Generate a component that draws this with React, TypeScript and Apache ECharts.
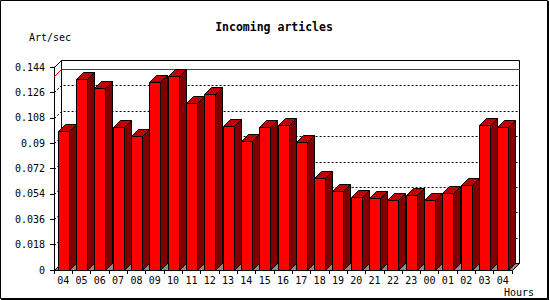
import React, { useEffect, useRef } from "react";
import * as echarts from "echarts";

const hours = ["04","05","06","07","08","09","10","11","12","13","14","15","16","17","18","19","20","21","22","23","00","01","02","03","04"];
const artPerSec = [0.0986,0.1353,0.1289,0.1012,0.0948,0.1331,0.1376,0.1185,0.1249,0.1021,0.0915,0.1014,0.1029,0.0906,0.0650,0.0558,0.0516,0.0508,0.0497,0.0530,0.0494,0.0544,0.0601,0.1026,0.1012];
const yTicks = [0,0.018,0.036,0.054,0.072,0.09,0.108,0.126,0.144];
const yTickLabels = ["0","0.018","0.036","0.054","0.072","0.09","0.108","0.126","0.144"];

const FONT = "DejaVu Sans Mono";
const DEPTH = 7;
const BAR_W = 11;

export default function App() {
  const ref = useRef<HTMLDivElement>(null);
  useEffect(() => {
    if (!ref.current) return;
    const chart = echarts.init(ref.current, null, { renderer: "svg" });
    const maxVal = Math.max(...artPerSec);
    const yMax = yTicks[yTicks.length - 1];
    const step = yTicks[1] - yTicks[0];

    const wallsRender = (params: any, api: any) => {
      const cs = params.coordSys;
      const x0 = cs.x, x1 = cs.x + cs.width;
      const yb = api.coord([0, 0])[1];
      const yt = api.coord([0, yMax])[1];
      const d = DEPTH;
      const r = (v: number) => Math.round(v) + 0.5;
      const children: any[] = [];
      // back wall
      children.push({ type: "polygon", shape: { points: [[r(x0 + d), r(yt - d)], [r(x1 + d), r(yt - d)], [r(x1 + d), r(yb - d)], [r(x0 + d), r(yb - d)]] }, style: { fill: "#fff", stroke: "#000", lineWidth: 1 } });
      // floor
      children.push({ type: "polygon", shape: { points: [[r(x0), r(yb)], [r(x0 + d), r(yb - d)], [r(x1 + d), r(yb - d)], [r(x1), r(yb)]] }, style: { fill: "#8c8c8c", stroke: "#000", lineWidth: 1 } });
      // left wall top edge
      children.push({ type: "line", shape: { x1: r(x0), y1: r(yt), x2: r(x0 + d), y2: r(yt - d) }, style: { stroke: "#000", lineWidth: 1 } });
      // grid lines
      yTicks.forEach((v) => {
        if (v === 0 || v === yMax) return;
        const y = api.coord([0, v])[1];
        children.push({ type: "polyline", shape: { points: [[r(x0), r(y)], [r(x0 + d), r(y - d)], [r(x1 + d), r(y - d)]] }, style: { stroke: "#000", lineWidth: 1, lineDash: [2, 2], fill: null } });
      });
      // max line
      const ym = api.coord([0, maxVal])[1];
      children.push({ type: "polyline", shape: { points: [[r(x0), r(ym)], [r(x0 + d), r(ym - d)], [r(x1 + d), r(ym - d)]] }, style: { stroke: "#e00000", lineWidth: 1, fill: null } });
      return { type: "group", children };
    };

    const barRender = (params: any, api: any) => {
      const idx = api.value(0);
      const val = api.value(1);
      const top = api.coord([idx, val]);
      const base = api.coord([idx, 0]);
      const d = DEPTH;
      const xl = Math.round(top[0] - BAR_W / 2) + 0.5;
      const xr = xl + BAR_W;
      const yt = Math.round(top[1]) + 0.5;
      const yb = Math.round(base[1]) + 0.5;
      return {
        type: "group",
        children: [
          { type: "polygon", shape: { points: [[xr, yt], [xr + d, yt - d], [xr + d, yb - d], [xr, yb]] }, style: { fill: "#800000", stroke: "#000", lineWidth: 1 } },
          { type: "polygon", shape: { points: [[xl, yt], [xl + d, yt - d], [xr + d, yt - d], [xr, yt]] }, style: { fill: "#c00000", stroke: "#000", lineWidth: 1 } },
          { type: "rect", shape: { x: xl, y: yt, width: BAR_W, height: yb - yt }, style: { fill: "#ff0000", stroke: "#000", lineWidth: 1 } },
        ],
      };
    };

    chart.setOption({
      animation: false,
      backgroundColor: "#fff",
      grid: { left: 54, right: 38, top: 67, bottom: 30, containLabel: false },
      xAxis: {
        type: "category",
        data: hours,
        boundaryGap: true,
        axisLine: { lineStyle: { color: "#000", width: 1 } },
        axisTick: { show: true, length: 4, lineStyle: { color: "#000" } },
        axisLabel: { interval: 0, color: "#000", fontFamily: FONT, fontSize: 10, margin: 5 },
        splitLine: { show: false },
      },
      yAxis: {
        type: "value",
        min: 0,
        max: yMax,
        interval: step,
        axisLine: { show: true, lineStyle: { color: "#000", width: 1 } },
        axisTick: { show: true, length: 4, lineStyle: { color: "#000" } },
        axisLabel: {
          color: "#000",
          fontFamily: FONT,
          fontSize: 10,
          margin: 9,
          formatter: (v: number) => yTickLabels[Math.round(v / step)] ?? "",
        },
        splitLine: { show: false },
      },
      series: [
        { type: "custom", renderItem: wallsRender, data: [[0, 0]], z: 1, silent: true },
        { type: "custom", renderItem: barRender, data: artPerSec.map((v, i) => [i, v]), encode: { x: 0, y: 1 }, z: 3 },
      ],
      graphic: [
        { type: "rect", shape: { x: 0.5, y: 0.5, width: 547, height: 298 }, style: { fill: "none", stroke: "#000", lineWidth: 1 }, z: 100 },
        { type: "line", shape: { x1: 548.5, y1: 1, x2: 548.5, y2: 300 }, style: { stroke: "#000", lineWidth: 1 }, z: 100 },
        { type: "line", shape: { x1: 1, y1: 299.5, x2: 549, y2: 299.5 }, style: { stroke: "#000", lineWidth: 1 }, z: 100 },
        { type: "text", x: 274, y: 27, style: { text: "Incoming articles", font: `bold 11.5px "${FONT}"`, fill: "#000", textAlign: "center", textVerticalAlign: "middle", align: "center", verticalAlign: "middle" }, z: 100 },
        { type: "text", x: 29, y: 37, style: { text: "Art/sec", font: `10px "${FONT}"`, fill: "#000", textAlign: "left", textVerticalAlign: "middle", align: "left", verticalAlign: "middle" }, z: 100 },
        { type: "text", x: 504, y: 292, style: { text: "Hours", font: `10px "${FONT}"`, fill: "#000", textAlign: "left", textVerticalAlign: "middle", align: "left", verticalAlign: "middle" }, z: 100 },
      ],
    });
    return () => chart.dispose();
  }, []);
  return <div ref={ref} style={{ position: "absolute", left: 0, top: 0, width: 550, height: 300 }} />;
}
